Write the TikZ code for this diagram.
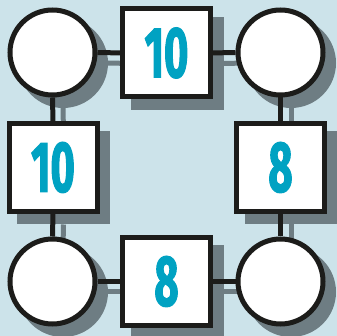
\documentclass[tikz,border=0pt]{standalone}
\usepackage{fontspec}
\newfontfamily\digitfont{Fira Sans}[FakeStretch=0.58,FakeBold=1.5]
\usetikzlibrary{shadows}
\definecolor{bgblue}{HTML}{CCE3EA}
\definecolor{shade}{HTML}{6E7D83}
\definecolor{ink}{HTML}{1C1C1A}
\definecolor{num}{HTML}{00A2C2}
\pgfdeclarelayer{bg}\pgfdeclarelayer{shd}\pgfsetlayers{bg,shd,main}
\begin{document}
\begin{tikzpicture}[x=1pt,y=-1pt,
 shadowed/.style={drop shadow={shadow xshift=10.5pt,shadow yshift=-10.5pt,opacity=1,fill=shade,draw=shade,line width=5pt}},
 ring/.style={circle,draw=ink,line width=5pt,fill=white,minimum size=85pt,inner sep=0pt,shadowed},
 numbox/.style={rectangle,draw=ink,line width=5pt,fill=white,minimum size=88pt,inner sep=0pt,shadowed,text=num,font=\digitfont\bfseries\fontsize{72}{72}\selectfont},
 link/.style={draw=ink,line width=5pt},
 linkshadow/.style={draw=shade,line width=5pt}]
\useasboundingbox (0,0) rectangle (337,336);
\begin{pgfonlayer}{bg}
\fill[bgblue] (0,0) rectangle (337,336);
\end{pgfonlayer}
\node[ring] (c1) at (52.5,52.5) {};
\node[ring] (c2) at (280.5,52.5) {};
\node[ring] (c3) at (52.5,281.5) {};
\node[ring] (c4) at (280.5,281.5) {};
\node[numbox] (bt) at (166.5,53) {10};
\node[numbox] (bl) at (53,167.5) {10};
\node[numbox] (br) at (280.5,167.5) {8};
\node[numbox] (bb) at (166.5,281.5) {8};
\begin{pgfonlayer}{shd}
\foreach \a/\b in {c1.east/bt.west, bt.east/c2.west, c1.south/bl.north, c2.south/br.north, bl.south/c3.north, br.south/c4.north, c3.east/bb.west, bb.east/c4.west}{
  \draw[linkshadow] ([xshift=10.5pt,yshift=-10.5pt]\a) -- ([xshift=10.5pt,yshift=-10.5pt]\b);
}
\end{pgfonlayer}
\draw[link] (c1) -- (bt);
\draw[link] (bt) -- (c2);
\draw[link] (c1) -- (bl);
\draw[link] (c2) -- (br);
\draw[link] (bl) -- (c3);
\draw[link] (br) -- (c4);
\draw[link] (c3) -- (bb);
\draw[link] (bb) -- (c4);
\end{tikzpicture}
\end{document}
